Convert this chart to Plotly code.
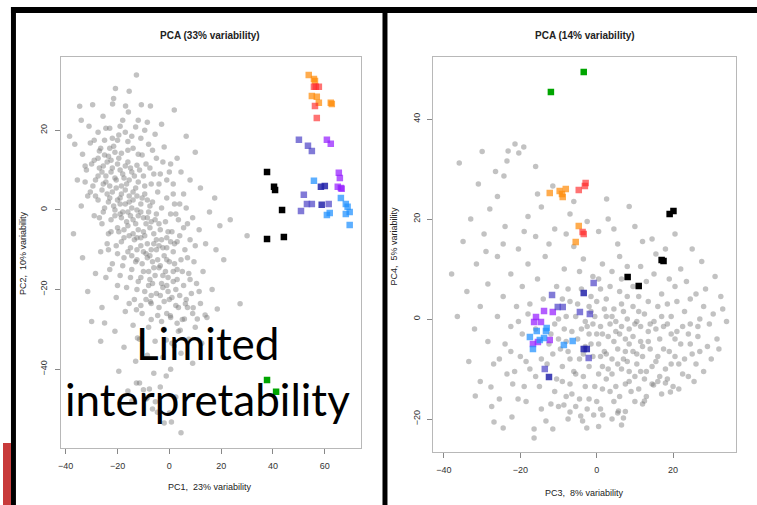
import plotly.graph_objects as go

W, H = 757, 505

# ---------------- data ----------------
LEFT_TITLE = "PCA (33% variability)"
RIGHT_TITLE = "PCA (14% variability)"
LEFT_XLABEL = "PC1,  23% variability"
LEFT_YLABEL = "PC2,  10% variability"
RIGHT_XLABEL = "PC3,  8% variability"
RIGHT_YLABEL = "PC4,  5% variability"
LEFT_XTICKS = [-40, -20, 0, 20, 40, 60]
LEFT_YTICKS = [-40, -20, 0, 20]
RIGHT_XTICKS = [-40, -20, 0, 20]
RIGHT_YTICKS = [-20, 0, 20, 40]
OVERLAY_TEXT = ["Limited", "interpretability"]

LEFT_GRAY = [
    (-12.7, 33.9), (-20.8, 30.5), (-15.5, 29.8), (-21.5, 28.0), (-29.6, 26.4), (-34.6, 26.0),
    (-21.9, 26.6), (-16.9, 26.1), (-15.8, 24.6), (-10.8, 26.4), (-7.3, 26.1), (1.9, 25.1),
    (-25.6, 23.5), (-31.0, 21.0), (-18.0, 22.5), (-8.5, 22.0), (-3.0, 21.5), (-23.0, 20.5),
    (-13.0, 20.8), (-36.5, 16.5), (-27.5, 19.5), (-5.5, 19.0), (-19.5, 18.8), (-11.0, 18.0),
    (-25.0, 17.5), (-16.0, 17.2), (-30.5, 16.8), (-21.5, 16.0), (-8.0, 16.5), (-2.0, 15.8),
    (-14.0, 15.5), (-27.0, 14.8), (-33.5, 14.0), (-18.5, 14.2), (-23.5, 13.5), (-10.5, 13.8),
    (-5.0, 13.0), (-29.0, 12.5), (-16.0, 12.0), (-20.0, 11.5), (-25.5, 11.0), (-12.5, 11.2),
    (-7.5, 10.5), (0.5, 11.5), (-32.0, 10.0), (-22.5, 9.5), (-18.0, 9.0), (-14.5, 9.5),
    (-27.5, 8.5), (-10.0, 8.5), (-3.5, 9.0), (4.5, 9.5), (-35.5, 7.5), (-24.5, 7.0),
    (-20.5, 7.5), (-16.5, 6.5), (-12.0, 7.0), (-7.0, 6.5), (-29.5, 6.0), (1.5, 6.5),
    (8.0, 7.5), (-26.0, 5.0), (-22.0, 4.5), (-18.5, 4.0), (-14.0, 4.5), (-9.5, 4.0),
    (-4.5, 4.5), (-31.5, 3.5), (-1.0, 3.0), (5.5, 4.0), (12.0, 5.5), (-27.5, 2.5),
    (-23.5, 2.0), (-19.0, 1.5), (-15.5, 2.0), (-11.0, 1.5), (-6.5, 2.0), (2.0, 1.5),
    (-34.0, 1.0), (-21.0, 0.0), (-16.0, -0.5), (-12.5, 0.0), (-8.0, -0.5), (-3.0, 0.5),
    (0.5, -1.0), (6.5, 0.5), (-25.5, -0.5), (-29.0, -1.5), (15.5, -0.5), (-22.5, -2.5),
    (-18.5, -2.0), (-14.0, -2.5), (-10.0, -2.0), (-5.5, -2.5), (-1.5, -3.0), (3.5, -2.5),
    (9.0, -2.0), (-26.0, -3.5), (-20.0, -4.5), (-16.0, -4.0), (-12.0, -5.0), (-7.5, -4.5),
    (-3.5, -5.0), (1.0, -5.5), (5.5, -4.5), (11.5, -5.0), (30.0, -6.5), (-23.5, -6.0),
    (-17.5, -7.0), (-13.5, -7.5), (-9.5, -6.5), (-5.0, -7.5), (-1.0, -7.0), (3.0, -8.0),
    (8.0, -7.5), (14.0, -8.5), (-20.5, -9.0), (-15.0, -9.5), (-11.0, -9.0), (-7.0, -10.0),
    (-2.5, -9.5), (1.5, -10.5), (6.0, -10.0), (-26.5, -10.5), (18.0, -10.0), (-17.5, -12.0),
    (-12.5, -12.5), (-8.5, -12.0), (-4.5, -12.5), (0.0, -13.0), (4.5, -12.5), (9.5, -13.0),
    (-22.0, -13.5), (-14.5, -15.0), (-10.0, -15.5), (-6.0, -14.5), (-1.5, -15.5), (3.0, -15.0),
    (7.5, -16.0), (13.0, -15.5), (-19.0, -16.5), (-24.5, -17.0), (-12.0, -18.0), (-7.5, -17.5),
    (-3.0, -18.5), (1.5, -18.0), (5.5, -19.0), (10.5, -18.5), (-16.5, -19.5), (-9.5, -20.5),
    (-5.0, -21.0), (-0.5, -20.5), (4.0, -21.5), (8.5, -21.0), (16.5, -20.0), (-20.5, -22.0),
    (-13.5, -22.5), (-7.0, -23.5), (-2.0, -23.0), (2.5, -24.0), (7.0, -24.5), (12.0, -23.5),
    (-26.0, -24.5), (-17.0, -25.5), (-10.5, -26.0), (-4.5, -26.5), (0.5, -27.0), (5.0, -27.5),
    (14.5, -27.0), (-14.0, -29.0), (-8.0, -29.5), (-2.0, -30.0), (3.5, -30.5), (10.0, -29.5),
    (-21.0, -30.5), (-30.0, -28.0), (-11.5, -32.5), (-5.5, -33.0), (1.0, -33.5), (7.5, -32.5),
    (-17.5, -34.5), (-26.5, -33.0), (-8.5, -36.5), (-2.5, -37.0), (4.5, -36.0), (-13.0, -38.0),
    (-19.5, -40.5), (-6.0, -41.0), (0.5, -40.0), (-11.5, -43.5), (-3.5, -44.5), (-9.0, -47.5),
    (-14.5, -48.0), (-6.5, -50.0), (0.0, -51.0), (-2.0, -53.5), (4.5, -56.0), (-16.0, -45.5),
    (2.5, -47.0), (9.0, -38.5), (12.5, -33.5), (21.0, -12.5), (19.5, -4.0), (23.5, -2.5),
    (17.5, 3.0), (-37.0, -6.0), (-33.5, -12.0), (-28.5, -16.0), (-31.5, -20.5), (-24.0, -8.5),
    (-32.5, 7.0), (-38.5, 18.5), (-34.0, 22.5), (10.0, 14.5), (6.5, 18.5), (3.0, 13.0),
    (-1.0, 7.5), (2.5, -1.0),
    (-24.0, 12.0), (-22.0, 10.5), (-19.5, 13.0), (-26.0, 9.5), (-20.5, 5.5), (-17.5, 8.0),
    (-15.0, 10.5), (-23.0, 6.0), (-19.0, 3.0), (-17.0, 5.0), (-13.0, 5.5), (-15.5, 3.5),
    (-21.5, 1.0), (-24.0, 4.0), (-18.0, -0.5), (-14.5, 0.5), (-10.5, 3.0), (-12.0, -1.5),
    (-16.5, -3.0), (-19.5, -5.5), (-9.0, -3.5), (-14.0, -6.0), (-11.0, -7.0), (-8.5, -8.5),
    (-12.5, -10.0), (-6.0, -6.0), (-4.0, -9.0), (-9.0, -11.0), (-6.5, -13.0), (-2.0, -11.5),
    (-10.5, -13.5), (-3.5, -14.0), (-1.0, -12.5), (2.0, -13.5), (-5.5, -16.5), (-0.5, -17.0),
    (3.0, -17.5), (-8.0, -19.0), (-2.5, -19.5), (1.0, -22.0), (-12.5, -20.0), (-4.0, -24.5),
    (6.5, -22.5), (-27.5, 13.0), (-30.0, 11.5), (-23.0, 15.5), (-28.5, 3.5), (-25.0, 0.5),
    (-17.0, 11.0), (-12.0, 14.0), (-9.0, 11.5), (-6.0, 9.0), (-7.5, 1.0), (-5.0, -1.0),
    (-0.5, -5.5), (4.0, -6.5), (2.0, -8.5), (7.0, -12.0), (5.0, -15.5), (-20.0, -11.0),
    (-23.0, -15.0), (-15.0, -17.0), (-11.0, -24.0), (-7.0, -27.5), (-1.0, -26.0), (3.0, -28.5),
    (9.0, -26.0), (11.5, -20.5), (-17.0, 19.5), (-12.0, 22.5), (-24.5, 20.5), (-9.5, 20.0),
    (-14.5, -11.5), (-18.0, -14.0), (-7.0, -21.5), (0.0, -22.5), (-3.0, -28.0), (-16.0, 15.0),
    (-20.0, 17.5),
    (-12.7, -25.1), (-7.3, -23.1), (6.2, -23.6), (9.2, -24.6), (18.5, -24.9), (27.3, -23.6),
    (0.4, -26.6), (5.8, -27.4), (10.8, -27.4), (13.8, -26.4), (-25.0, -28.4), (4.2, -30.2),
    (-12.3, -32.2), (-1.2, -32.7), (1.9, -34.2), (-12.7, -43.5), (-1.2, -41.7), (-10.0, -45.2),
    (-7.7, -45.0), (-8.5, -47.2), (-5.4, -48.2), (-4.6, -50.8), (0.8, -53.3),
    (-26.5, 15.5), (-25.0, 13.8), (-22.5, 12.5), (-21.0, 14.5), (-19.0, 10.0), (-27.0, 10.5),
    (-24.5, 8.5), (-21.0, 8.0), (-18.5, 6.0), (-15.5, 7.5), (-13.5, 8.5), (-11.5, 10.0),
    (-25.5, 6.5), (-23.0, 3.0), (-20.0, 2.5), (-17.0, 1.5), (-14.0, 2.5), (-12.5, 3.5),
    (-9.5, 6.0), (-8.5, 2.5), (-21.0, -1.5), (-19.0, -1.0), (-15.0, -1.5), (-13.0, -3.5),
    (-11.0, -0.5), (-8.5, -2.0), (-17.5, -5.0), (-15.5, -6.5), (-12.5, -7.0), (-10.0, -5.5),
    (-7.0, -3.0), (-4.0, -3.5), (-6.0, -8.5), (-10.0, -10.5), (-13.0, -13.0), (-7.5, -11.5),
    (-5.0, -10.0), (-3.0, -7.5), (-1.0, -9.5), (0.5, -8.0), (-4.0, -14.5), (-8.0, -15.5),
    (-2.5, -16.5), (1.5, -15.5), (-6.5, -18.5), (-1.0, -19.0), (2.5, -20.0), (-11.0, -17.0),
    (-16.0, -10.5), (-18.5, -8.0), (-22.5, -5.5), (-27.0, -2.0), (-23.5, -10.0), (-28.5, 7.5),
    (-30.5, 4.5), (-32.5, 11.0), (-29.0, 17.5), (-22.0, 18.0), (-14.5, 18.5), (-19.0, 21.0),
    (-6.5, 15.0), (-2.5, 12.0), (0.0, 9.5), (-4.0, 6.5), (1.5, 4.0), (4.0, 1.5),
    (7.0, -3.5), (10.0, -9.0), (8.0, -17.5), (3.5, -24.5), (-3.5, -21.5), (-9.0, -22.5),
    (-15.5, -23.5), (-20.0, -19.0),
]

L_ORANGE = [(53.8, 33.9), (55.8, 32.9), (56.2, 32.4), (55.0, 28.6), (56.9, 28.4),
            (57.7, 26.9), (62.3, 26.9), (62.7, 26.6)]
L_RED = [(55.8, 30.9), (57.7, 30.9), (56.5, 30.9), (56.2, 26.1), (56.9, 23.1)]
L_PURPLE = [(60.8, 17.6), (62.3, 16.6), (65.4, 9.3), (65.8, 8.0), (65.0, 5.8),
            (66.5, 5.3), (66.2, 5.5)]
L_SLATE = [(50.0, 17.6), (53.5, 16.1), (55.0, 14.8), (51.9, 3.8), (53.1, 1.5),
           (55.0, 1.5), (61.5, 1.5), (50.8, -0.3)]
L_NAVY = [(58.5, 5.8), (60.0, 6.0), (58.8, 1.3)]
L_SKY = [(55.8, 7.3), (66.2, 3.0), (68.1, 1.5), (68.8, 0.8), (69.6, -0.5),
         (68.1, -1.0), (61.9, -0.8), (60.8, -1.3), (69.6, -3.8)]
L_BLACK = [(37.7, 9.5), (40.4, 5.8), (40.8, 5.0), (43.5, 0.0), (37.7, -7.3), (44.2, -6.8)]
L_GREEN = [(37.7, -42.7), (41.2, -45.7)]

RIGHT_GRAY = [
    (-21.4, 35.0), (-23.2, 33.6), (-19.1, 34.4), (-20.4, 33.2), (-23.5, 31.6), (-24.3, 28.6),
    (-36.0, 31.2), (-30.0, 33.5), (-26.5, 29.5), (-11.5, 26.6), (2.6, 24.0), (-14.5, 22.4),
    (-28.0, 22.0), (-7.0, 21.0), (8.5, 22.5), (-33.0, 20.0), (-18.0, 20.5), (3.0, 20.0),
    (-35.0, 15.5), (-29.5, 17.0), (-24.0, 18.5), (-20.5, 14.0), (-16.0, 16.5), (-11.0, 18.0),
    (-6.0, 14.5), (0.5, 17.5), (5.5, 15.0), (10.0, 18.5), (14.5, 16.0), (20.5, 17.0),
    (25.0, 14.0), (-38.0, 9.0), (-31.5, 11.0), (-26.0, 12.5), (-22.5, 9.0), (-18.0, 11.0),
    (-13.5, 12.5), (-8.5, 10.0), (-3.5, 12.0), (1.5, 11.0), (6.0, 12.5), (11.5, 10.5),
    (15.5, 13.0), (22.0, 10.0), (27.5, 11.5), (31.0, 8.5), (-34.0, 5.5), (-28.5, 7.0),
    (-24.5, 4.5), (-19.5, 6.5), (-15.5, 8.0), (-7.5, 6.0), (-1.0, 8.5), (3.5, 6.5),
    (8.0, 4.5), (13.0, 7.5), (17.0, 5.0), (20.5, 6.5), (24.5, 4.0), (28.5, 6.0),
    (32.5, 4.5), (-30.5, 2.5), (-26.0, 0.5), (-21.0, 2.5), (-17.5, 3.0), (-9.0, 4.0),
    (-5.0, 3.0), (0.0, 3.5), (4.5, 2.0), (9.5, 2.5), (12.5, 1.0), (16.0, 2.5),
    (19.5, 0.5), (23.0, 1.5), (27.0, 0.0), (30.5, 1.0), (34.0, -0.5),
    (-22.5, -1.5), (-19.5, -3.0), (-11.0, -1.0), (-8.0, 0.5), (-6.5, -2.5), (-3.0, -0.5),
    (-1.5, 1.5), (1.0, -1.5), (2.5, 0.5), (5.0, -0.5), (7.0, 1.5), (8.5, -2.0),
    (10.5, -0.5), (13.5, -2.5), (15.0, -0.5), (17.5, -1.5), (21.0, -2.5), (24.5, -1.0),
    (26.5, -3.5), (-24.0, -5.0), (-20.0, -7.5), (-10.0, -4.0), (-7.5, -6.5), (-5.0, -4.0),
    (-2.0, -3.0), (0.5, -5.0), (3.0, -3.5), (5.5, -6.0), (7.5, -4.0), (9.5, -6.5),
    (11.5, -4.5), (14.0, -6.0), (16.5, -4.0), (19.0, -6.5), (22.0, -5.0), (25.0, -7.0),
    (29.0, -5.5), (-27.0, -9.0), (-17.5, -10.0), (-11.5, -7.0), (-9.0, -9.5), (-4.5, -8.0),
    (-1.0, -7.5), (1.5, -9.5), (4.0, -8.0), (6.5, -10.0), (8.0, -8.5), (10.5, -9.0),
    (13.0, -10.5), (15.5, -8.5), (18.0, -10.0), (21.5, -9.0), (24.0, -11.5), (-30.5, -12.5),
    (-22.0, -13.0), (-15.0, -13.5), (-10.5, -12.0), (-7.0, -13.0), (-3.5, -11.5), (-0.5, -13.5),
    (2.5, -12.0), (5.0, -13.5), (8.5, -12.5), (11.0, -14.0), (14.5, -13.0), (17.0, -15.0),
    (20.0, -13.5), (-25.5, -16.0), (-18.5, -16.5), (-12.0, -17.0), (-8.0, -15.5), (-5.5, -17.5),
    (-2.0, -16.0), (1.0, -18.0), (4.5, -16.5), (7.5, -18.5), (12.0, -17.0),
    (-31.8, -15.4), (-26.9, -20.6), (-24.5, -21.8), (-22.2, -19.6), (-20.6, -16.0), (-16.4, -22.0),
    (-16.4, -23.8), (-13.3, -20.4), (-8.6, -17.2), (-7.0, -18.6), (-4.2, -19.4), (-3.7, -20.4),
    (-2.6, -21.8), (-0.8, -19.2), (1.6, -19.2), (5.5, -18.8), (5.7, -18.4), (7.0, -19.8),
    (6.5, -21.2), (12.5, -16.4), (19.3, -14.6), (18.0, -12.8), (14.9, -13.2), (-27.7, -13.6),
    (-4.0, 6.0), (-2.5, -1.5), (0.0, -3.0), (2.0, -6.5), (4.0, -11.0), (6.0, -3.0),
    (8.0, 0.0), (10.0, -11.5), (12.0, -7.5), (-6.0, -10.5), (-12.5, -5.0), (-14.5, -8.0),
    (-8.5, -2.0), (-3.0, -5.5), (1.0, 6.0), (6.5, 8.0), (11.0, 4.5), (18.5, 3.0),
    (22.5, -11.0), (26.0, -9.0), (28.0, 2.5), (-16.0, -2.0), (-21.5, -10.5), (-1.5, 4.5),
    (-18.5, -8.5), (-16.0, -11.5), (-13.0, -9.0), (-11.0, -14.5), (-9.5, -6.0), (-7.0, -8.0),
    (-5.5, -11.0), (-4.0, -2.0), (-2.0, -9.5), (-1.0, -1.0), (0.5, -11.0), (1.5, -3.0),
    (2.5, -7.0), (3.5, -14.5), (4.5, -4.5), (5.5, -9.0), (6.5, -1.5), (7.5, -6.5),
    (8.5, -10.5), (9.5, -3.5), (10.5, -7.0), (11.5, -1.5), (12.5, -12.0), (13.5, -4.5),
    (14.5, -9.5), (15.5, -2.0), (16.5, -11.5), (17.5, -6.0), (18.5, -1.0), (19.5, -9.0),
    (20.5, -4.0), (21.5, -14.0), (23.0, -8.0), (24.0, -3.0), (25.5, -12.5), (27.0, -6.5),
    (29.5, -1.0), (31.5, -4.0), (33.0, 2.0), (-20.5, -0.5), (-18.0, 1.0), (-14.0, 4.0),
    (-10.5, 6.5), (-7.0, 3.5), (-4.5, 9.5), (-2.0, 2.5), (0.5, 8.0), (2.5, 4.0),
    (4.0, 9.5), (6.0, 5.5), (8.0, 10.5), (9.5, 6.5), (11.0, 1.5), (13.5, 3.5),
    (15.0, 9.0), (17.0, 0.5), (19.0, 8.0), (21.0, 3.5), (23.5, 7.5), (26.0, 5.0),
    (-28.5, -4.5), (-25.5, -8.0), (-22.5, -6.5), (-32.0, -2.0), (-36.5, 0.5), (-33.5, -8.5),
    (-29.0, 13.5), (-24.5, 15.0), (-19.0, 17.5), (-12.5, 15.0), (-8.0, 17.0), (-2.5, 19.5),
    (4.5, 18.0), (12.0, 15.5), (18.0, 14.0), (-6.0, 23.5), (-15.5, 25.0), (-26.0, 24.5),
    (-31.0, 27.0), (-16.0, 30.5), (-10.0, 0.0), (-12.0, -3.0), (-9.0, -12.5), (-6.5, -15.0),
    (-3.0, -13.5), (0.0, -16.5), (3.0, -10.0), (6.0, -15.5), (9.0, -14.5), (11.5, -10.5),
    (-1.5, -5.0), (1.0, -7.5), (3.5, -1.0), (5.0, -2.5), (7.0, -8.0), (8.5, -5.0),
    (10.0, -1.0), (12.0, -5.5), (14.0, -1.0), (16.0, -7.5), (-0.5, 0.5), (2.0, 2.0),
    (4.0, 0.5), (6.5, 3.0), (-5.5, 0.5), (-3.5, -7.0), (-8.0, -4.5), (1.5, -14.0),
    (-4.5, -16.0), (-10.0, -17.5), (7.5, -13.0), (13.0, -15.5), (16.0, -12.5), (22.5, -1.5),
    (19.5, -3.0), (18.5, -12.0), (24.5, -5.0), (-2.5, -18.0), (4.0, -20.0), (10.0, -16.5),
    (0.5, -21.5), (-7.5, -20.0), (-11.5, -22.0), (-19.0, -13.5), (-23.5, -11.0), (-27.5, -17.5),
    (-14.5, -18.0), (20.5, -7.5), (26.5, -1.5), (30.0, -8.0), (28.0, -10.5), (32.0, -6.0),
]

R_GREEN = [(-3.4, 49.4), (-12.0, 45.4)]
R_ORANGE = [(-12.3, 25.2), (-9.7, 25.6), (-8.1, 26.0), (-8.9, 24.4), (-9.1, 25.0),
            (-4.7, 18.6), (-5.5, 15.4)]
R_RED = [(-4.7, 25.8), (-3.1, 26.6), (-2.9, 27.2), (-3.7, 17.4), (-3.4, 17.0)]
R_BLACK = [(19.1, 21.0), (20.1, 21.6), (17.5, 11.6), (17.0, 11.8), (8.1, 8.4), (11.0, 6.6)]
R_SLATE = [(-0.8, 7.2), (-11.7, 4.8), (-10.2, 2.4), (-8.9, 2.4), (-4.4, 1.4),
           (-1.8, 1.0), (-2.1, -7.8), (-13.6, -10.0)]
R_NAVY = [(-3.4, 5.2), (-3.4, -6.0), (-2.6, -6.0), (-12.5, -11.6)]
R_PURPLE = [(-13.8, 1.6), (-11.5, 1.4), (-15.9, 0.4), (-16.4, -0.6), (-14.6, -0.6),
            (-15.4, -4.6), (-12.3, -4.2), (-16.7, -5.0)]
R_SKY = [(-15.7, -2.4), (-13.3, -2.4), (-13.1, -1.8), (-17.5, -3.6), (-14.9, -4.2),
         (-13.8, -3.8), (-16.7, -6.0), (-8.6, -5.2), (-6.3, -4.4)]

# ---------------- styling ----------------
GRAY = "rgba(120,120,120,0.45)"
COLORS = {
    "orange": "rgba(255,140,10,0.72)",
    "red": "rgba(255,40,40,0.65)",
    "purple": "rgba(150,30,255,0.72)",
    "slate": "rgba(80,70,200,0.72)",
    "navy": "rgba(35,35,170,0.85)",
    "sky": "rgba(30,144,255,0.72)",
    "black": "rgb(0,0,0)",
    "green": "rgb(0,165,0)",
}

FONT = "Liberation Sans, Arial, sans-serif"


def px(x):
    return x / W


def py(y):
    return 1 - y / H


fig = go.Figure()


def add_points(pts, xa, ya, color, symbol, size):
    fig.add_trace(go.Scatter(
        x=[p[0] for p in pts], y=[p[1] for p in pts],
        xaxis=xa, yaxis=ya, mode="markers",
        marker=dict(color=color, symbol=symbol, size=size, line=dict(width=0)),
        showlegend=False, hoverinfo="skip"))


add_points(LEFT_GRAY, "x", "y", GRAY, "circle", 5.5)
for pts, c in [(L_ORANGE, "orange"), (L_RED, "red"), (L_PURPLE, "purple"), (L_SLATE, "slate"),
               (L_NAVY, "navy"), (L_SKY, "sky"), (L_BLACK, "black"), (L_GREEN, "green")]:
    add_points(pts, "x", "y", COLORS[c], "square", 6.5)

add_points(RIGHT_GRAY, "x2", "y2", GRAY, "circle", 5.5)
for pts, c in [(R_ORANGE, "orange"), (R_RED, "red"), (R_PURPLE, "purple"), (R_SLATE, "slate"),
               (R_NAVY, "navy"), (R_SKY, "sky"), (R_BLACK, "black"), (R_GREEN, "green")]:
    add_points(pts, "x2", "y2", COLORS[c], "square", 6.5)

axis_common = dict(
    showgrid=False, zeroline=False, showline=True, mirror=True,
    linecolor="#b8b8b8", linewidth=1,
    ticks="outside", ticklen=5, tickcolor="#888888", tickwidth=1,
    tickfont=dict(family=FONT, size=9, color="#333333"),
    ticklabelstandoff=4,
)

fig.update_layout(
    width=W, height=H,
    margin=dict(l=0, r=0, t=0, b=0),
    paper_bgcolor="white", plot_bgcolor="white",
    xaxis=dict(domain=[px(58), px(359)], range=[-41.9, 73.8], tickvals=LEFT_XTICKS,
               anchor="y", **axis_common),
    yaxis=dict(domain=[py(448), py(57)], range=[-59.8, 38.4], tickvals=LEFT_YTICKS,
               anchor="x", tickangle=-90, **axis_common),
    xaxis2=dict(domain=[px(432), px(736)], range=[-42.8, 36.5], tickvals=RIGHT_XTICKS,
                anchor="y2", **axis_common),
    yaxis2=dict(domain=[py(452), py(57)], range=[-26.6, 52.4], tickvals=RIGHT_YTICKS,
                anchor="x2", tickangle=-90, **axis_common),
)

annots = [
    dict(text="<b>" + LEFT_TITLE + "</b>", x=px(208), y=py(35), size=10),
    dict(text="<b>" + RIGHT_TITLE + "</b>", x=px(584), y=py(35), size=10),
    dict(text=LEFT_XLABEL, x=px(208), y=py(487), size=9),
    dict(text=RIGHT_XLABEL, x=px(584), y=py(493), size=9),
    dict(text=LEFT_YLABEL, x=px(20), y=py(253), size=9, angle=-90),
    dict(text=RIGHT_YLABEL, x=px(393), y=py(246), size=9, angle=-90),
]
for a in annots:
    fig.add_annotation(
        text=a["text"], x=a["x"], y=a["y"], xref="paper", yref="paper",
        xanchor="center", yanchor="middle", showarrow=False,
        textangle=a.get("angle", 0),
        font=dict(family=FONT, size=a["size"], color="#222222"))

# Big overlay text
fig.add_annotation(text=OVERLAY_TEXT[0], x=px(205), y=py(343), xref="paper", yref="paper",
                   xanchor="center", yanchor="middle", showarrow=False,
                   font=dict(family="Lato, Carlito, sans-serif", size=44, color="black"))
fig.add_annotation(text=OVERLAY_TEXT[1], x=px(205), y=py(399), xref="paper", yref="paper",
                   xanchor="center", yanchor="middle", showarrow=False,
                   font=dict(family="Lato, Carlito, sans-serif", size=44, color="black"))

# Black panel frames and the red slide strip
shapes = [
    dict(x0=8, x1=757, y0=7, y1=13, color="black"),
    dict(x0=8, x1=13, y0=7, y1=505, color="black"),
    dict(x0=381, x1=386, y0=7, y1=505, color="black"),
    dict(x0=0, x1=8, y0=443, y1=505, color="#c83a3a"),
]
for s in shapes:
    fig.add_shape(type="rect", xref="paper", yref="paper",
                  x0=px(s["x0"]), x1=px(s["x1"]), y0=py(s["y1"]), y1=py(s["y0"]),
                  fillcolor=s["color"], line=dict(width=0), layer="above")

fig.write_html("out.html")
